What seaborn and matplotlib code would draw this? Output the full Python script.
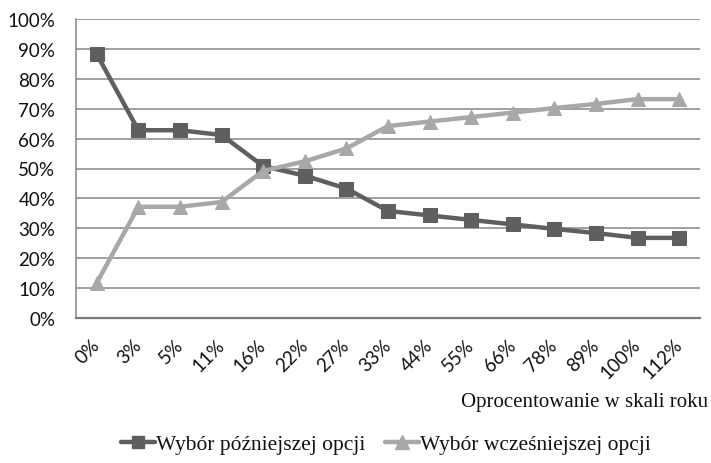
import matplotlib
matplotlib.use("Agg")
import matplotlib.pyplot as plt
import seaborn as sns
import pandas as pd
from matplotlib.ticker import FuncFormatter, MultipleLocator
from matplotlib.lines import Line2D
from matplotlib.font_manager import FontProperties

categories = ["0%", "3%", "5%", "11%", "16%", "22%", "27%", "33%", "44%",
              "55%", "66%", "78%", "89%", "100%", "112%"]
later = [88.2, 62.8, 62.8, 61.2, 50.8, 47.6, 43.3, 35.8, 34.3, 32.8, 31.3, 29.8, 28.4, 26.8, 26.8]
earlier = [11.8, 37.2, 37.2, 38.8, 49.2, 52.4, 56.7, 64.2, 65.7, 67.2, 68.7, 70.2, 71.6, 73.2, 73.2]
series_names = ["Wybór późniejszej opcji", "Wybór wcześniejszej opcji"]
x_title = "Oprocentowanie w skali roku"

df = pd.DataFrame({
    "cat": categories * 2,
    "idx": list(range(len(categories))) * 2,
    "val": later + earlier,
    "series": [series_names[0]] * len(categories) + [series_names[1]] * len(categories),
})

sns.set_theme(style="white")
plt.rcParams["font.family"] = ["Lato", "DejaVu Sans"]
title_fp = FontProperties(family="Liberation Serif", size=15)
legend_fp = FontProperties(family="Liberation Serif", size=15.5)

fig = plt.figure(figsize=(7.11, 4.64), dpi=100)
ax = fig.add_axes([76 / 711, 1 - 319 / 464, 624 / 711, 299 / 464])

colors = {series_names[0]: "#5f5f5f", series_names[1]: "#a8a8a8"}
markers = {series_names[0]: "s", series_names[1]: "^"}
sizes = {series_names[0]: 9.5, series_names[1]: 10.5}

for name in series_names:
    sub = df[df.series == name]
    sns.lineplot(data=sub, x="idx", y="val", ax=ax, color=colors[name],
                 linewidth=3.2, marker=markers[name], markersize=sizes[name],
                 markeredgecolor=colors[name], legend=False, zorder=3)

ax.set_xlim(-0.5, len(categories) - 0.5)
ax.set_ylim(0, 100)
ax.yaxis.set_major_locator(MultipleLocator(10))
ax.yaxis.set_major_formatter(FuncFormatter(lambda v, p: f"{int(round(v))}%"))
ax.set_xticks(range(len(categories)))
ax.set_xticklabels(categories, rotation=45, ha="right", va="center", rotation_mode="anchor")
ax.tick_params(axis="x", labelsize=13.5, pad=17, length=0, colors="#111111")
ax.tick_params(axis="y", labelsize=13.5, pad=15, length=0, colors="#111111")

ax.grid(axis="y", color="#868686", linewidth=1.1, zorder=0)
ax.grid(axis="x", visible=False)
for s in ["top", "right"]:
    ax.spines[s].set_visible(False)
ax.spines["left"].set_color("#868686")
ax.spines["left"].set_linewidth(1.1)
ax.spines["bottom"].set_color("#7a7a7a")
ax.spines["bottom"].set_linewidth(1.6)
ax.set_xlabel("")
ax.set_ylabel("")

fig.text(708 / 711, 1 - 403 / 464, x_title, ha="right", va="center",
         fontproperties=title_fp, color="#111111")

handles = [Line2D([0], [0], color=colors[n], linewidth=3.2, marker=markers[n],
                  markersize=sizes[n] * 0.9, markeredgecolor=colors[n]) for n in series_names]
leg = fig.legend(handles, series_names, loc="center", bbox_to_anchor=(386 / 711, 1 - 445 / 464),
                 ncol=2, frameon=False, prop=legend_fp,
                 handlelength=1.6, handletextpad=0.05, columnspacing=0.9)
for t in leg.get_texts():
    t.set_color("#111111")

fig.savefig("out.png", dpi=100)
